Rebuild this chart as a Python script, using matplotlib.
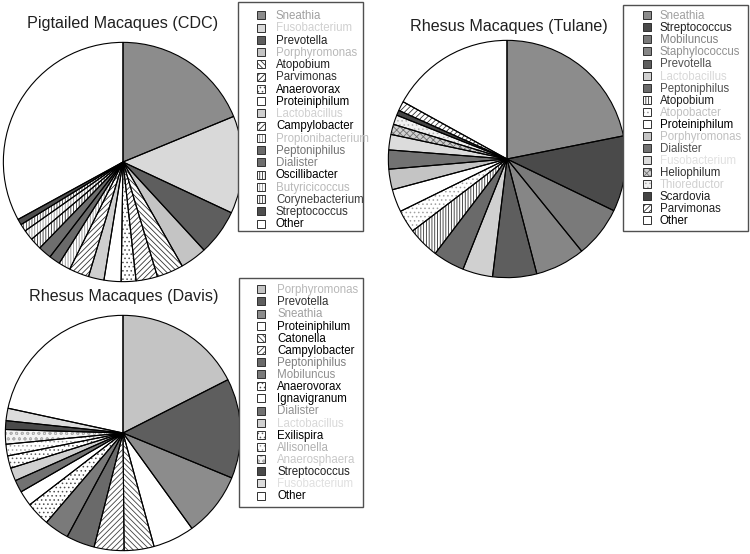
import matplotlib
matplotlib.use('Agg')
import matplotlib.pyplot as plt
from matplotlib.patches import Rectangle

plt.rcParams['font.family'] = ['Liberation Sans', 'DejaVu Sans']
plt.rcParams['hatch.linewidth'] = 0.6

W, H = 750, 554

# ---------------- data ----------------
cdc_title = "Pigtailed Macaques (CDC)"
cdc_labels = ["Sneathia", "Fusobacterium", "Prevotella", "Porphyromonas", "Atopobium",
              "Parvimonas", "Anaerovorax", "Proteiniphilum", "Lactobacillus", "Campylobacter",
              "Propionibacterium", "Peptoniphilus", "Dialister", "Oscillibacter",
              "Butyricicoccus", "Corynebacterium", "Streptococcus", "Other"]
cdc_values = [18.8, 13.2, 6.2, 3.6, 3.6, 2.9, 2.0, 2.3, 2.1, 2.7, 1.6, 1.5, 1.8, 1.6,
              1.4, 1.0, 0.8, 33.0]

tulane_title = "Rhesus Macaques (Tulane)"
tulane_labels = ["Sneathia", "Streptococcus", "Mobiluncus", "Staphylococcus", "Prevotella",
                 "Lactobacillus", "Peptoniphilus", "Atopobium", "Atopobacter", "Proteiniphilum",
                 "Porphyromonas", "Dialister", "Fusobacterium", "Heliophilum", "Thioreductor",
                 "Scardovia", "Parvimonas", "Other"]
tulane_values = [21.9, 10.3, 7.0, 6.8, 6.0, 4.1, 4.3, 4.3, 3.1, 3.1, 2.8, 2.6, 2.1, 1.4,
                 1.3, 0.7, 1.3, 17.0]

davis_title = "Rhesus Macaques (Davis)"
davis_labels = ["Porphyromonas", "Prevotella", "Sneathia", "Proteiniphilum", "Catonella",
                "Campylobacter", "Peptoniphilus", "Mobiluncus", "Anaerovorax", "Ignavigranum",
                "Dialister", "Lactobacillus", "Exilispira", "Allisonella", "Anaerosphaera",
                "Streptococcus", "Fusobacterium", "Other"]
davis_values = [17.5, 13.7, 8.8, 5.7, 4.1, 4.1, 3.9, 3.4, 3.3, 2.1, 1.7, 1.8, 1.7, 1.6,
                2.0, 1.2, 1.7, 21.6]

# ---------------- styles: (face, hatch, hatch colour, legend text colour) ----------------
BS = "\\" * 6
FS = "/" * 6
VL = "|" * 6
DT = "...."

cdc_styles = [
    ("#8c8c8c", None, None, "#a0a0a0"),
    ("#d9d9d9", None, None, "#d0d0d0"),
    ("#5e5e5e", None, None, "#202020"),
    ("#c4c4c4", None, None, "#b8b8b8"),
    ("white", BS, "#303030", "#202020"),
    ("white", FS, "#303030", "#303030"),
    ("white", DT, "#505050", "#000000"),
    ("white", None, None, "#000000"),
    ("#cfcfcf", None, None, "#d0d0d0"),
    ("white", FS, "#303030", "#000000"),
    ("white", VL, "#909090", "#c0c0c0"),
    ("#6a6a6a", None, None, "#707070"),
    ("#6e6e6e", None, None, "#808080"),
    ("white", VL, "#303030", "#000000"),
    ("white", VL, "#909090", "#b8b8b8"),
    ("white", VL, "#404040", "#404040"),
    ("#4e4e4e", None, None, "#303030"),
    ("white", None, None, "#000000"),
]
tulane_styles = [
    ("#8c8c8c", None, None, "#a0a0a0"),
    ("#4a4a4a", None, None, "#202020"),
    ("#7a7a7a", None, None, "#808080"),
    ("#868686", None, None, "#909090"),
    ("#5e5e5e", None, None, "#505050"),
    ("#d0d0d0", None, None, "#d8d8d8"),
    ("#6a6a6a", None, None, "#505050"),
    ("white", VL, "#303030", "#202020"),
    ("white", DT, "#a0a0a0", "#c0c0c0"),
    ("white", None, None, "#000000"),
    ("#c4c4c4", None, None, "#c0c0c0"),
    ("#727272", None, None, "#505050"),
    ("#dcdcdc", None, None, "#e0e0e0"),
    ("#d0d0d0", "xxxxx", "#707070", "#303030"),
    ("#f0f0f0", DT, "#b0b0b0", "#d0d0d0"),
    ("#444444", None, None, "#202020"),
    ("white", FS, "#303030", "#202020"),
    ("white", None, None, "#000000"),
]
davis_styles = [
    ("#c4c4c4", None, None, "#b8b8b8"),
    ("#5e5e5e", None, None, "#303030"),
    ("#8c8c8c", None, None, "#a0a0a0"),
    ("white", None, None, "#000000"),
    ("white", BS, "#404040", "#000000"),
    ("white", FS, "#404040", "#000000"),
    ("#6a6a6a", None, None, "#808080"),
    ("#7a7a7a", None, None, "#909090"),
    ("white", DT, "#505050", "#000000"),
    ("white", None, None, "#000000"),
    ("#727272", None, None, "#909090"),
    ("#d0d0d0", None, None, "#d8d8d8"),
    ("white", DT, "#606060", "#000000"),
    ("white", DT, "#a0a0a0", "#b0b0b0"),
    ("#f4f4f4", "ooo", "#b0b0b0", "#c8c8c8"),
    ("#4a4a4a", None, None, "#202020"),
    ("#dcdcdc", None, None, "#e0e0e0"),
    ("white", None, None, "#000000"),
]

fig = plt.figure(figsize=(W / 100, H / 100), dpi=100)


def fx(x):
    return x / W


def fy(y):
    return 1 - y / H


def pie_panel(values, styles, cx, cy, r):
    ax = fig.add_axes([fx(cx - r), fy(cy + r), 2 * r / W, 2 * r / H])
    faces = [s[0] for s in styles]
    wedges, _ = ax.pie(values, colors=faces, startangle=90, counterclock=False,
                       wedgeprops=dict(linewidth=0))
    for w, s in zip(wedges, styles):
        if s[1]:
            w.set_edgecolor(s[2])
            w.set_hatch(s[1])
    ax.pie(values, startangle=90, counterclock=False,
           wedgeprops=dict(facecolor='none', edgecolor='black', linewidth=0.8))
    ax.set_xlim(-1.003, 1.003)
    ax.set_ylim(-1.003, 1.003)
    ax.set_aspect('equal')
    ax.axis('off')


def legend(labels, styles, box, hx, tx, y0, dy):
    x0, yt, x1, yb = box
    fig.add_artist(Rectangle((fx(x0), fy(yb)), (x1 - x0) / W, (yb - yt) / H,
                             transform=fig.transFigure, facecolor='white',
                             edgecolor='#505050', linewidth=1.0, zorder=5))
    hs = 8
    for i, (lab, s) in enumerate(zip(labels, styles)):
        y = y0 + i * dy
        rect = Rectangle((fx(hx), fy(y + hs / 2)), hs / W, hs / H, transform=fig.transFigure,
                         facecolor=s[0], edgecolor=s[2] if s[1] else '#303030',
                         linewidth=0 if s[1] else 0.7, zorder=6)
        if s[1]:
            rect.set_hatch(s[1])
        fig.add_artist(rect)
        if s[1]:
            fig.add_artist(Rectangle((fx(hx), fy(y + hs / 2)), hs / W, hs / H,
                                     transform=fig.transFigure, facecolor='none',
                                     edgecolor='#303030', linewidth=0.7, zorder=7))
        fig.text(fx(tx), fy(y + 3.9), lab, color=s[3], fontsize=8.3,
                 ha='left', va='baseline', zorder=8)


# CDC
pie_panel(cdc_values, cdc_styles, 123, 162, 120)
fig.text(fx(122.5), fy(27.7), cdc_title, fontsize=11.6, ha='center', va='baseline', color='#202020')
legend(cdc_labels, cdc_styles, (238, 2, 363, 231), 256.5, 276, 15.3, 12.25)

# Tulane
pie_panel(tulane_values, tulane_styles, 507, 159, 119)
fig.text(fx(508.5), fy(30.5), tulane_title, fontsize=11.6, ha='center', va='baseline', color='#202020')
legend(tulane_labels, tulane_styles, (623, 5, 748, 231), 642.5, 660, 15.3, 12.06)

# Davis
pie_panel(davis_values, davis_styles, 123, 433, 118)
fig.text(fx(124), fy(301), davis_title, fontsize=11.6, ha='center', va='baseline', color='#202020')
legend(davis_labels, davis_styles, (239, 278, 363, 507), 256.5, 277, 289.3, 12.13)

fig.savefig('out.png', dpi=100)
